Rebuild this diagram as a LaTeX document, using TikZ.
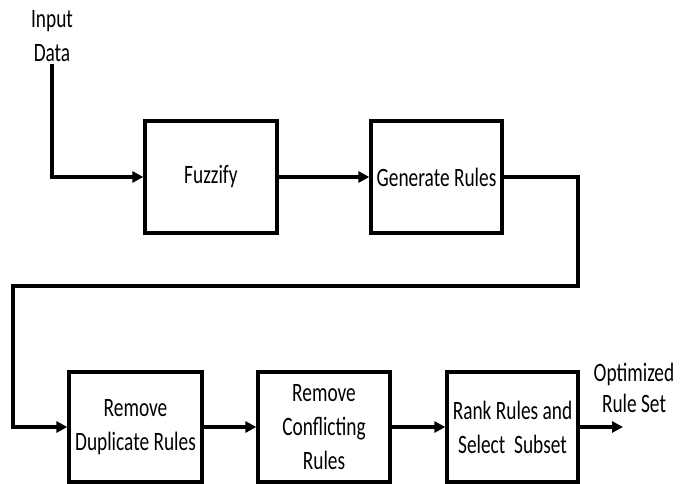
\documentclass[tikz,border=0pt]{standalone}
\usepackage{fontspec}
\setmainfont{Carlito}[FakeStretch=0.73]
\usetikzlibrary{arrows.meta}
\newcommand\diagfont{\fontsize{26.5}{34}\selectfont}
\newcommand\optfont{\fontsize{26.5}{31}\selectfont}
\begin{document}
\begin{tikzpicture}[x=1pt,y=-1pt,
  box/.style={draw, rectangle, line width=3.3pt, inner sep=0pt, align=center, font=\diagfont},
  flow/.style={-{Triangle[length=11pt,width=11pt]}, line width=3.3pt},
  lbl/.style={align=center, inner sep=0pt}]
\useasboundingbox (0,0) rectangle (688,484);

\node[lbl, font=\diagfont] (inp) at (52,36) {Input\\Data};
\node[box, minimum width=132pt, minimum height=112pt] (fuzz) at (211,177) {Fuzzify};
\node[box, minimum width=131pt, minimum height=112pt] (gen) at (436.5,177) {Generate Rules};

\node[box, minimum width=133pt, minimum height=110pt] (dup) at (135.5,427) {Remove\\Duplicate Rules};
\node[box, minimum width=132pt, minimum height=110pt] (conf) at (324,427) {Remove\\Conflicting\\Rules};
\node[box, minimum width=131pt, minimum height=110pt] (rank) at (512.5,427) {Rank Rules and\\Select\ \ Subset};
\node[lbl, font=\optfont] (opt) at (634,387.5) {Optimized\\Rule Set};

\coordinate (inpend) at (52,64);
\coordinate (c1) at (578,286);
\coordinate (c2) at (13,286);
\coordinate (out) at (623,427);

\draw[flow] (inpend) |- (fuzz.west);
\draw[flow] (fuzz.east) -- (gen.west);
\draw[flow] (gen.east) -| (c1) -- (c2) |- (dup.west);
\draw[flow] (dup.east) -- (conf.west);
\draw[flow] (conf.east) -- (rank.west);
\draw[flow] (rank.east) -- (out);
\end{tikzpicture}
\end{document}
